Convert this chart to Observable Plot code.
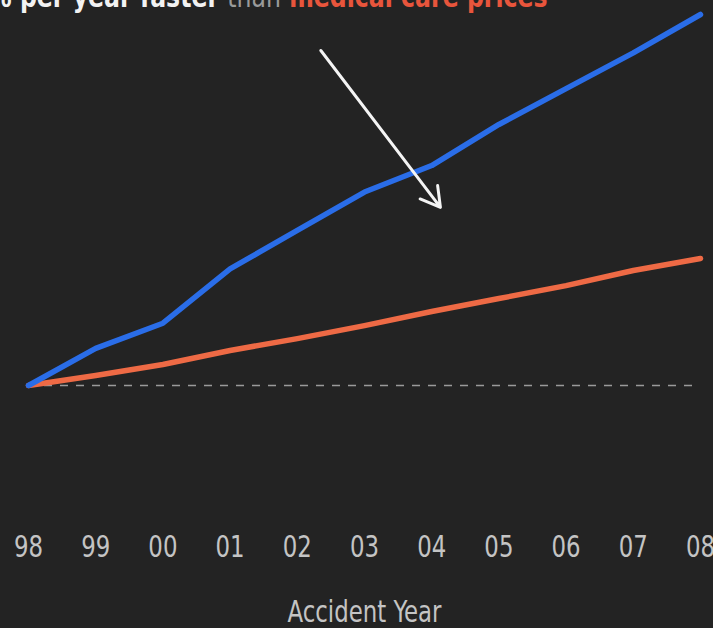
<!DOCTYPE html>
<html>
<head>
<meta charset="utf-8">
<script src="https://cdn.jsdelivr.net/npm/d3@7"></script>
<script src="https://cdn.jsdelivr.net/npm/@observablehq/plot@0.6"></script>
<style>
  html, body { margin: 0; padding: 0; background: #232323; }
  #wrap { position: relative; width: 713px; height: 628px; overflow: hidden; background: #232323; }
  #headline {
    position: absolute; left: -12px; top: -20px; white-space: nowrap;
    font-family: "DejaVu Sans Condensed", "DejaVu Sans", sans-serif;
    font-weight: bold; font-size: 30px; line-height: 34px;
    transform: scaleX(0.875); transform-origin: left top;
  }
  #headline .hi { color: #f2f2f2; }
  #headline .mid { color: #9a9a9a; font-weight: normal; }
  #headline .med { color: #e8553c; }
  #chart { position: absolute; left: 0; top: 0; }
</style>
</head>
<body>
<div id="wrap">
  <div id="chart"></div>
  <div id="headline"><span class="hi">% per year faster</span> <span class="mid">than</span> <span class="med">medical care prices</span></div>
</div>
<script>
// Accident years and their two-digit tick labels
const years = [1998, 1999, 2000, 2001, 2002, 2003, 2004, 2005, 2006, 2007, 2008];
const tickLabels = ["98", "99", "00", "01", "02", "03", "04", "05", "06", "07", "08"];

// Index values (1998 = 1.0)
const claimCost = [1.00, 1.14, 1.235, 1.44, 1.585, 1.73, 1.83, 1.985, 2.12, 2.255, 2.40];
const medicalPrices = [1.00, 1.038, 1.079, 1.132, 1.177, 1.226, 1.279, 1.328, 1.377, 1.434, 1.479];

// Annotation arrow, in data units
const arrowFrom = {x: 2002.35, y: 2.264};
const arrowTo = {x: 2004.13, y: 1.672};

const claimRows = years.map((year, i) => ({year, value: claimCost[i]}));
const medicalRows = years.map((year, i) => ({year, value: medicalPrices[i]}));

const FONT = `"DejaVu Sans Condensed", "DejaVu Sans", sans-serif`;

const chart = Plot.plot({
  width: 713,
  height: 628,
  marginLeft: 28,
  marginRight: 13,
  marginTop: 0,
  marginBottom: 128,
  style: {background: "transparent", fontFamily: FONT},
  x: {domain: [1998, 2008]},
  y: {domain: [0.566, 2.4528], axis: null},
  marks: [
    Plot.ruleY([1], {x1: 1998, x2: 2008, stroke: "#9a9a9a", strokeWidth: 1.5, strokeDasharray: "8,8"}),
    Plot.line(medicalRows, {x: "year", y: "value", stroke: "#ee6a45", strokeWidth: 5.5, strokeLinecap: "round"}),
    Plot.line(claimRows, {x: "year", y: "value", stroke: "#2a6de8", strokeWidth: 5.5, strokeLinecap: "round"}),
    Plot.arrow([{}], {
      x1: () => arrowFrom.x, y1: () => arrowFrom.y,
      x2: () => arrowTo.x, y2: () => arrowTo.y,
      stroke: "#f4f4f4", strokeWidth: 3, headLength: 11, bend: 0
    }),
    Plot.axisX({
      ticks: years,
      tickFormat: (d) => tickLabels[years.indexOf(d)],
      tickSize: 0,
      tickPadding: 34,
      fontSize: 31,
      color: "#c4c4c4",
      label: "Accident Year",
      labelAnchor: "center",
      labelArrow: "none",
      labelOffset: 121
    })
  ]
});

// Narrow the axis lettering to a condensed look
chart.querySelectorAll('g[aria-label="x-axis tick label"] text, g[aria-label="x-axis label"] text')
  .forEach((t) => {
    const tr = t.getAttribute("transform") || "";
    t.setAttribute("transform", `${tr} scale(0.82 1)`);
  });

document.getElementById("chart").append(chart);
</script>
</body>
</html>
